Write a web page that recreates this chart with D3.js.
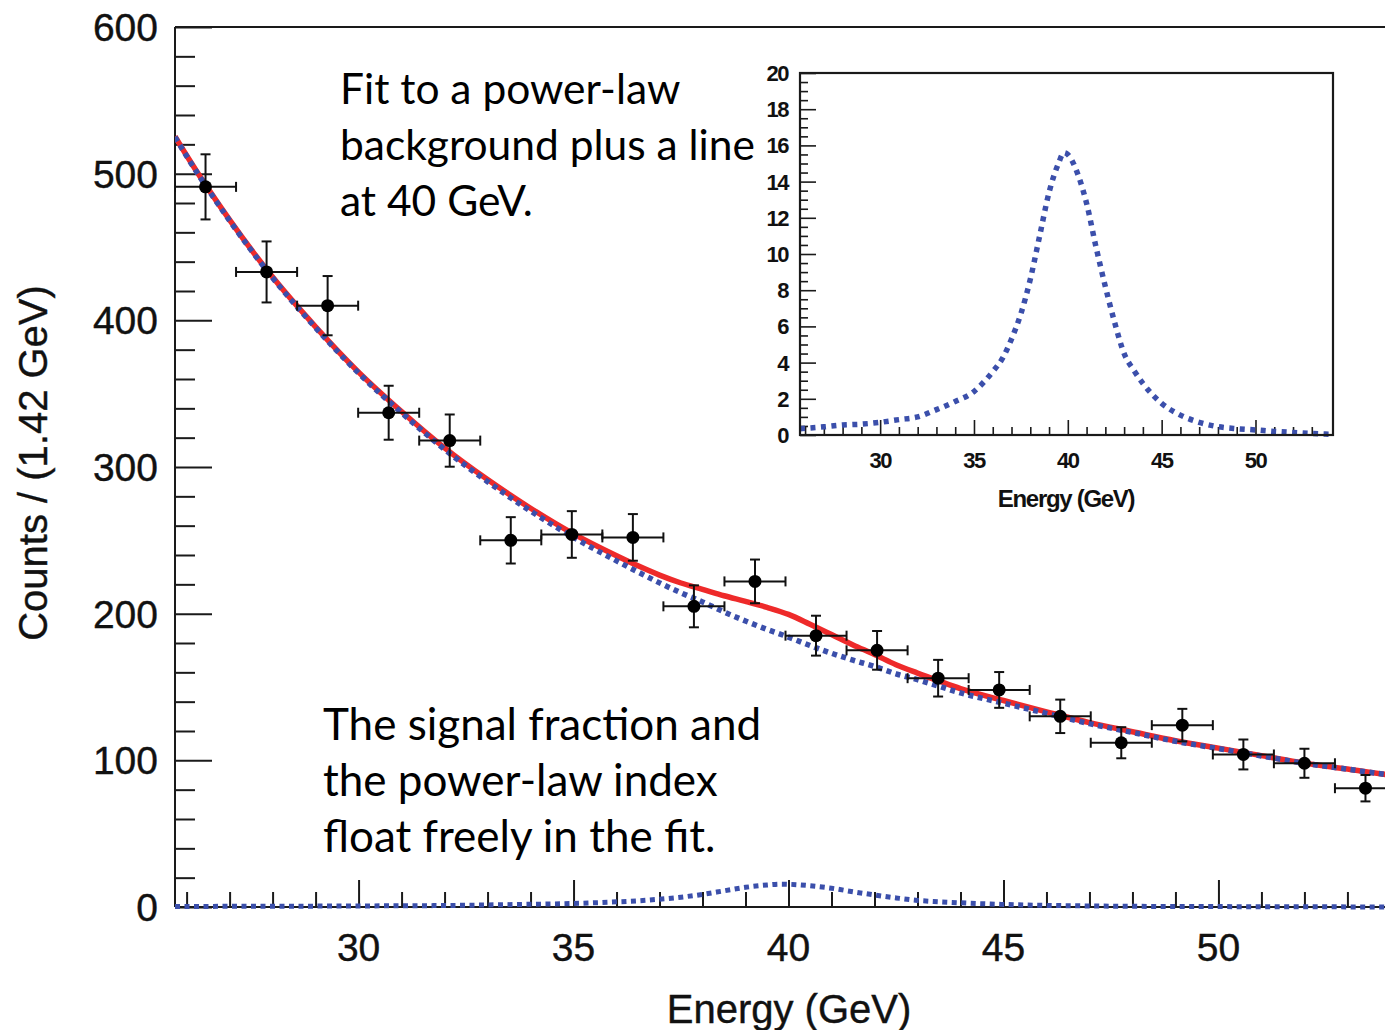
<!DOCTYPE html>
<html>
<head>
<meta charset="utf-8">
<script src="https://cdn.jsdelivr.net/npm/d3@7/dist/d3.min.js"></script>
<style>
  html, body { margin: 0; padding: 0; background: #fff; overflow: hidden; }
  svg { display: block; }
</style>
</head>
<body>
<svg id="chart" width="1385" height="1030"></svg>
<script>
// ---- Histogram: bin centres, counts and statistical errors (1.42 GeV bins) ----
const binWidth = 1.42;
const binCenters = [26.44, 27.86, 29.28, 30.70, 32.12, 33.54, 34.96, 36.38, 37.80, 39.22,
                    40.64, 42.06, 43.48, 44.90, 46.32, 47.74, 49.16, 50.58, 52.00, 53.42];
const counts     = [491, 433, 410, 337, 318, 250, 254, 252, 205, 222,
                    185, 175, 156, 148, 130, 112, 124, 104, 98, 81];
const countErrors = [22.2, 20.8, 20.2, 18.4, 17.8, 15.8, 15.9, 15.9, 14.3, 14.9,
                     13.6, 13.2, 12.5, 12.2, 11.4, 10.6, 11.1, 10.2, 9.9, 9.0];

// ---- Fit curves sampled along the energy axis ----
const fitEnergy = [25.73, 26, 27, 28, 29, 30, 31, 32, 33, 34, 35, 36, 36.5, 37, 37.5, 38, 38.5,
                   39, 39.5, 40, 40.5, 41, 41.5, 42, 42.5, 43, 43.5, 44, 45, 46, 47, 48, 49,
                   50, 51, 52, 53, 54, 54.13];
// power-law background component
const backgroundFit = [525, 512, 468, 429, 395, 364, 337, 312, 290, 270, 252, 236, 228.4, 221, 214.2, 208, 201.2,
                       195, 189.3, 184, 178.3, 173, 168.3, 164, 159, 155, 150.5, 146, 139, 132, 125, 119, 113,
                       108, 103, 98, 94, 90, 89.6];
// total fit: background plus line
const totalFit = [525.4, 512.4, 468.5, 429.5, 395.6, 364.7, 337.8, 313, 291.4, 271.9, 254.4, 239.5, 232.6, 226.3, 220.9, 216.6, 212.2,
                  208.4, 204.3, 199.5, 192.8, 185.8, 178.7, 172.2, 165.2, 159.5, 154.1, 148.9, 140.8, 133.1, 125.7, 119.5, 113.4,
                  108.3, 103.2, 98.1, 94.1, 90, 89.6];

// ---- Signal line shape (counts per bin) ----
const signalEnergy = [25.73, 27, 28, 29, 30, 31, 32, 33, 34, 35, 35.5, 36, 36.5, 37, 37.5, 38, 38.5, 39, 39.5,
                      39.8, 40, 40.5, 41, 41.5, 42, 42.5, 43, 43.5, 44, 45, 46, 47, 48, 49, 50, 51, 52, 53, 54.13];
const signalFit = [0.35, 0.45, 0.55, 0.6, 0.7, 0.85, 1.0, 1.4, 1.85, 2.4, 2.9, 3.5, 4.2, 5.3, 6.7, 8.6, 11.0, 13.4, 15.0,
                   15.6, 15.5, 14.5, 12.8, 10.4, 8.2, 6.2, 4.5, 3.6, 2.85, 1.75, 1.1, 0.7, 0.46, 0.35, 0.28, 0.2, 0.14, 0.08, 0.04];

// ---- Axis ticks ----
const xMajorTicks = [30, 35, 40, 45, 50];
const yMajorTicks = [0, 100, 200, 300, 400, 500, 600];
const insetYTicks = [0, 2, 4, 6, 8, 10, 12, 14, 16, 18, 20];

const energyDomain = [25.73, 54.13];

const svg = d3.select("#chart");
const AXIS = "#1a1a1a";
const RED = "#ee2a2a";
const BLUE = "#3b4fab";

// ================= main frame =================
const M = { left: 175, top: 27, bottom: 907, right: 1396 };
const x = d3.scaleLinear().domain(energyDomain).range([M.left, M.right]);
const y = d3.scaleLinear().domain([0, 600]).range([M.bottom, M.top]);

svg.append("defs").append("clipPath").attr("id", "plotClip")
  .append("rect").attr("x", M.left).attr("y", M.top)
  .attr("width", M.right - M.left).attr("height", M.bottom - M.top + 4);

// y axis: long ticks every 100, short every 20, drawn inward
const yAxis = d3.axisRight(y)
  .tickValues(d3.range(0, 601, 20))
  .tickSize(20)
  .tickFormat("");
const gy = svg.append("g").attr("transform", `translate(${M.left},0)`).call(yAxis);
gy.selectAll(".tick line").attr("x2", d => d % 100 === 0 ? 37 : 20);
gy.select(".domain").remove();

// x axis: long ticks every 5 GeV, short every 1 GeV, drawn upward
const xAxis = d3.axisTop(x)
  .tickValues(d3.range(26, 55, 1))
  .tickSize(15)
  .tickFormat("");
const gx = svg.append("g").attr("transform", `translate(0,${M.bottom})`).call(xAxis);
gx.selectAll(".tick line").attr("y2", d => d % 5 === 0 ? -27 : -15);
gx.select(".domain").remove();

svg.selectAll(".tick line").attr("stroke", AXIS).attr("stroke-width", 2);

// frame lines
svg.append("line").attr("x1", M.left).attr("x2", M.left).attr("y1", M.top).attr("y2", M.bottom)
  .attr("stroke", AXIS).attr("stroke-width", 2);
svg.append("line").attr("x1", M.left).attr("x2", 1385).attr("y1", M.top).attr("y2", M.top)
  .attr("stroke", AXIS).attr("stroke-width", 2);
svg.append("line").attr("x1", M.left).attr("x2", 1385).attr("y1", M.bottom).attr("y2", M.bottom)
  .attr("stroke", AXIS).attr("stroke-width", 2);

// tick labels
const labelFont = "'Liberation Sans', Arial, Helvetica, sans-serif";
svg.append("g").selectAll("text").data(yMajorTicks).join("text")
  .attr("x", 158).attr("y", d => y(d)).attr("dy", "0.36em")
  .attr("text-anchor", "end")
  .style("font-family", labelFont).style("font-size", "39px").attr("fill", "#111")
  .attr("stroke", "#111").attr("stroke-width", 0.4)
  .text(d => d);
svg.append("g").selectAll("text").data(xMajorTicks).join("text")
  .attr("x", d => x(d)).attr("y", 961)
  .attr("text-anchor", "middle")
  .style("font-family", labelFont).style("font-size", "39px").attr("fill", "#111")
  .attr("stroke", "#111").attr("stroke-width", 0.4)
  .text(d => d);

// axis titles
svg.append("text")
  .attr("transform", `translate(47,463) rotate(-90)`)
  .attr("text-anchor", "middle")
  .style("font-family", labelFont).style("font-size", "40px").attr("fill", "#111")
  .attr("stroke", "#111").attr("stroke-width", 0.4)
  .text("Counts / (1.42 GeV)");
svg.append("text")
  .attr("x", 789).attr("y", 1023)
  .attr("text-anchor", "middle")
  .style("font-family", labelFont).style("font-size", "40px").attr("fill", "#111")
  .attr("stroke", "#111").attr("stroke-width", 0.4)
  .text("Energy (GeV)");

// ================= fit curves =================
const plot = svg.append("g").attr("clip-path", "url(#plotClip)");
const fitLine = d3.line().x(d => x(d[0])).y(d => y(d[1])).curve(d3.curveMonotoneX);

plot.append("path")
  .datum(d3.zip(fitEnergy, totalFit))
  .attr("d", fitLine)
  .attr("fill", "none").attr("stroke", RED).attr("stroke-width", 5.5);

plot.append("path")
  .datum(d3.zip(fitEnergy, backgroundFit))
  .attr("d", fitLine)
  .attr("fill", "none").attr("stroke", BLUE).attr("stroke-width", 5.5)
  .attr("stroke-dasharray", "5,4.5");

plot.append("path")
  .datum(d3.zip(signalEnergy, signalFit))
  .attr("d", fitLine)
  .attr("fill", "none").attr("stroke", BLUE).attr("stroke-width", 5)
  .attr("stroke-dasharray", "5,4.5");

// ================= data points with error bars =================
const pts = d3.zip(binCenters, counts, countErrors);
const eb = plot.append("g").attr("stroke", "#111").attr("stroke-width", 2);
const cap = 5;
pts.forEach(([e, c, err]) => {
  const cx = x(e), cy = y(c);
  const xl = x(e - binWidth / 2), xr = x(e + binWidth / 2);
  const yt = y(c + err), yb = y(c - err);
  eb.append("line").attr("x1", xl).attr("x2", xr).attr("y1", cy).attr("y2", cy);
  eb.append("line").attr("x1", cx).attr("x2", cx).attr("y1", yt).attr("y2", yb);
  eb.append("line").attr("x1", xl).attr("x2", xl).attr("y1", cy - cap).attr("y2", cy + cap);
  eb.append("line").attr("x1", xr).attr("x2", xr).attr("y1", cy - cap).attr("y2", cy + cap);
  eb.append("line").attr("x1", cx - cap).attr("x2", cx + cap).attr("y1", yt).attr("y2", yt);
  eb.append("line").attr("x1", cx - cap).attr("x2", cx + cap).attr("y1", yb).attr("y2", yb);
});
plot.append("g").selectAll("circle").data(pts).join("circle")
  .attr("cx", d => x(d[0])).attr("cy", d => y(d[1])).attr("r", 6.5)
  .attr("fill", "#000");

// ================= inset: signal shape =================
const I = { left: 800, right: 1333, top: 73, bottom: 435 };
const ix = d3.scaleLinear().domain(energyDomain).range([I.left, I.right]);
const iy = d3.scaleLinear().domain([0, 20]).range([I.bottom, I.top]);
const inset = svg.append("g");

inset.append("rect").attr("x", I.left).attr("y", I.top)
  .attr("width", I.right - I.left).attr("height", I.bottom - I.top)
  .attr("fill", "#fff").attr("stroke", "none");

const iyAxis = d3.axisRight(iy).tickValues(d3.range(0, 20.01, 0.5)).tickSize(8).tickFormat("");
const giy = inset.append("g").attr("transform", `translate(${I.left},0)`).call(iyAxis);
giy.selectAll(".tick line").attr("x2", d => Math.abs(d % 2) < 1e-6 ? 16 : 8);
giy.select(".domain").remove();

const ixAxis = d3.axisTop(ix).tickValues(d3.range(26, 54, 1)).tickSize(7).tickFormat("");
const gix = inset.append("g").attr("transform", `translate(0,${I.bottom})`).call(ixAxis);
gix.selectAll(".tick line").attr("y2", d => d % 5 === 0 ? -15 : -8);
gix.select(".domain").remove();
inset.selectAll(".tick line").attr("stroke", AXIS).attr("stroke-width", 1.6);

inset.append("path")
  .datum(d3.zip(signalEnergy, signalFit))
  .attr("d", d3.line().x(d => ix(d[0])).y(d => iy(d[1])).curve(d3.curveMonotoneX))
  .attr("fill", "none").attr("stroke", BLUE).attr("stroke-width", 5.5)
  .attr("stroke-dasharray", "5,5.5");

inset.append("rect").attr("x", I.left).attr("y", I.top)
  .attr("width", I.right - I.left).attr("height", I.bottom - I.top)
  .attr("fill", "none").attr("stroke", AXIS).attr("stroke-width", 2.2);

const insetFont = "'Liberation Sans', Arial, Helvetica, sans-serif";
inset.append("g").selectAll("text").data(insetYTicks).join("text")
  .attr("x", 788).attr("y", d => iy(d)).attr("dy", "0.36em")
  .attr("text-anchor", "end")
  .style("font-family", insetFont).style("font-size", "22px").style("font-weight", "bold")
  .style("letter-spacing", "-1.5px").attr("fill", "#111")
  .text(d => d);
inset.append("g").selectAll("text").data(xMajorTicks).join("text")
  .attr("x", d => ix(d)).attr("y", 468)
  .attr("text-anchor", "middle")
  .style("font-family", insetFont).style("font-size", "22px").style("font-weight", "bold")
  .style("letter-spacing", "-1.5px").attr("fill", "#111")
  .text(d => d);
inset.append("text")
  .attr("x", 1066).attr("y", 507)
  .attr("text-anchor", "middle")
  .style("font-family", insetFont).style("font-size", "24px").style("font-weight", "bold")
  .style("letter-spacing", "-1.3px").attr("fill", "#111")
  .text("Energy (GeV)");

// ================= annotations =================
const noteFont = "Lato, 'Open Sans', sans-serif";
const note1 = ["Fit to a power-law", "background plus a line", "at 40 GeV."];
const note2 = ["The signal fraction and", "the power-law index", "float freely in the fit."];
svg.append("g").selectAll("text").data(note1).join("text")
  .attr("x", 340).attr("y", (d, i) => 104 + i * 56)
  .style("font-family", noteFont).style("font-size", "42.5px").attr("fill", "#000")
  .text(d => d);
svg.append("g").selectAll("text").data(note2).join("text")
  .attr("x", 323).attr("y", (d, i) => 740 + i * 56)
  .style("font-family", noteFont).style("font-size", "44px").attr("fill", "#000")
  .text(d => d);
</script>
</body>
</html>
